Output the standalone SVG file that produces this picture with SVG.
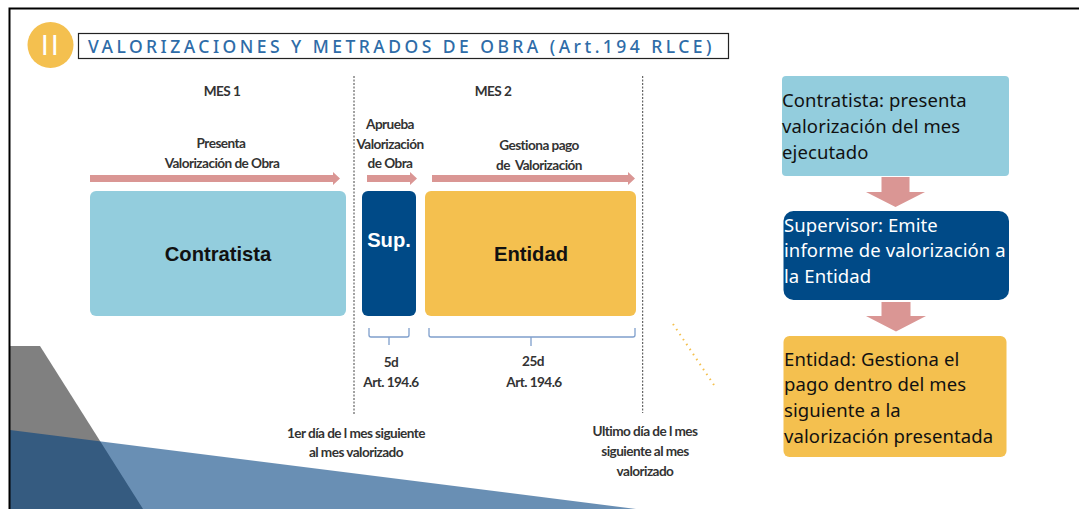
<svg xmlns="http://www.w3.org/2000/svg" width="1079" height="509" viewBox="0 0 1079 509">
<defs><style>
.l{font-family:Lato,"Liberation Sans",sans-serif;font-size:13.6px;font-weight:700;fill:#333;text-anchor:middle;letter-spacing:-.55px}
.b{font-family:"Liberation Sans",Arial,sans-serif;font-weight:700;text-anchor:middle;font-size:20.2px}
.r{font-family:"Noto Sans","Open Sans",sans-serif;font-size:18.5px;letter-spacing:.1px}
.ar{fill:#da9694}
.br{fill:none;stroke:#7f9fcc;stroke-width:1.3}
</style></defs>
<rect width="1079" height="509" fill="#fff"/>
<g id="background">
<polygon points="10,346 40,346 143,509 10,509" fill="#808080"/>
<polygon points="10,430 636,509 10,509" fill="#004080" fill-opacity=".59"/>
<path d="M9.500 509V8.500H1079" fill="none" stroke="#000" stroke-width="2"/>
</g>
<g id="header">
<circle cx="50.500" cy="45" r="23" fill="#f4c04f"/>
<text x="51" y="55" font-family="Lato,sans-serif" font-size="27" fill="#fff" text-anchor="middle" letter-spacing="2.500">II</text>
<rect x="78.500" y="33.500" width="650" height="25" fill="#fff" stroke="#222" stroke-width="1.200"/>
<text x="88" y="53" font-family="Noto Sans,sans-serif" font-size="17.500" font-weight="500" fill="#2e6ca8" letter-spacing="3.460">VALORIZACIONES Y METRADOS DE OBRA (Art.194 RLCE)</text>
</g>
<g id="connectors">
<line x1="354" y1="76" x2="354" y2="415.500" stroke="#444" stroke-width="1" stroke-dasharray="2 1.500"/>
<line x1="642.700" y1="76" x2="642.700" y2="413" stroke="#444" stroke-width="1" stroke-dasharray="2 1.500"/>
<polygon class="ar" points="90,175 333,175 333,172 340,178.500 333,185 333,182 90,182"/>
<polygon class="ar" points="367,175 410,175 410,172 417,178.500 410,185 410,182 367,182"/>
<polygon class="ar" points="432,175 628,175 628,172 635,178.500 628,185 628,182 432,182"/>
<polygon class="ar" points="881.500,177 909.500,177 909.500,192 925,192 895.500,207 866,192 881.500,192"/>
<polygon class="ar" points="881.500,302 910.500,302 910.500,316 926,316 896,331.500 866,316 881.500,316"/>
<path class="br" d="M369 328V335Q369 337 371 337H407Q409 337 409 335V328M389 337V345"/>
<path class="br" d="M429 328V335Q429 337 431 337H633Q635 337 635 335V328M531 337V346"/>
<line x1="113" y1="236.500" x2="137" y2="236.500" stroke="#f4c04f" stroke-width="1.500" stroke-dasharray="3 2"/>
<line x1="673" y1="324" x2="716" y2="388" stroke="#f4c04f" stroke-width="2" stroke-dasharray="1.500 4.500"/>
</g>
<g id="contratista">
<rect x="90" y="191" width="256" height="125" rx="6" fill="#93cddd"/>
<text class="b" x="218" y="261" fill="#111">Contratista</text>
</g>
<g id="sup">
<rect x="362" y="191" width="54" height="125" rx="6" fill="#004a87"/>
<text class="b" x="389" y="247" fill="#fff">Sup.</text>
</g>
<g id="entidad">
<rect x="425" y="191" width="211" height="125" rx="6" fill="#f4c04f"/>
<text class="b" x="531" y="261" fill="#111">Entidad</text>
</g>
<g id="labels">
<text class="l" x="222" y="96">MES 1</text>
<text class="l" x="493" y="96">MES 2</text>
<text class="l" x="221" y="148">Presenta</text>
<text class="l" x="222" y="168">Valorización de Obra</text>
<text class="l" x="390" y="129">Aprueba</text>
<text class="l" x="390" y="149">Valorización</text>
<text class="l" x="390" y="168">de Obra</text>
<text class="l" x="539" y="150">Gestiona pago</text>
<text class="l" x="539" y="170" xml:space="preserve">de  Valorización</text>
<text class="l" x="391" y="367">5d</text>
<text class="l" x="391" y="387">Art. 194.6</text>
<text class="l" x="533" y="366">25d</text>
<text class="l" x="534" y="387">Art. 194.6</text>
<text class="l" x="356" y="438">1er día de l mes siguiente</text>
<text class="l" x="356" y="457">al mes valorizado</text>
<text class="l" x="645" y="436">Ultimo día de l mes</text>
<text class="l" x="645" y="456">siguiente al mes</text>
<text class="l" x="645" y="476">valorizado</text>
</g>
<g id="paso1">
<rect x="782" y="76" width="227" height="100" rx="4" fill="#93cddd"/>
<text class="r" fill="#111"><tspan x="782" y="107">Contratista: presenta</tspan><tspan x="782" y="133">valorización del mes</tspan><tspan x="782" y="159">ejecutado</tspan></text>
</g>
<g id="paso2">
<rect x="783.500" y="211" width="225.500" height="89" rx="10" fill="#004a87"/>
<text class="r" fill="#fff"><tspan x="784" y="232">Supervisor: Emite</tspan><tspan x="784" y="257">informe de valorización a</tspan><tspan x="784" y="283">la Entidad</tspan></text>
</g>
<g id="paso3">
<rect x="783.500" y="336" width="223" height="121" rx="6" fill="#f4c04f"/>
<text class="r" fill="#111"><tspan x="784" y="366">Entidad: Gestiona el</tspan><tspan x="784" y="391">pago dentro del mes</tspan><tspan x="784" y="417">siguiente a la</tspan><tspan x="784" y="443">valorización presentada</tspan></text>
</g>
</svg>
